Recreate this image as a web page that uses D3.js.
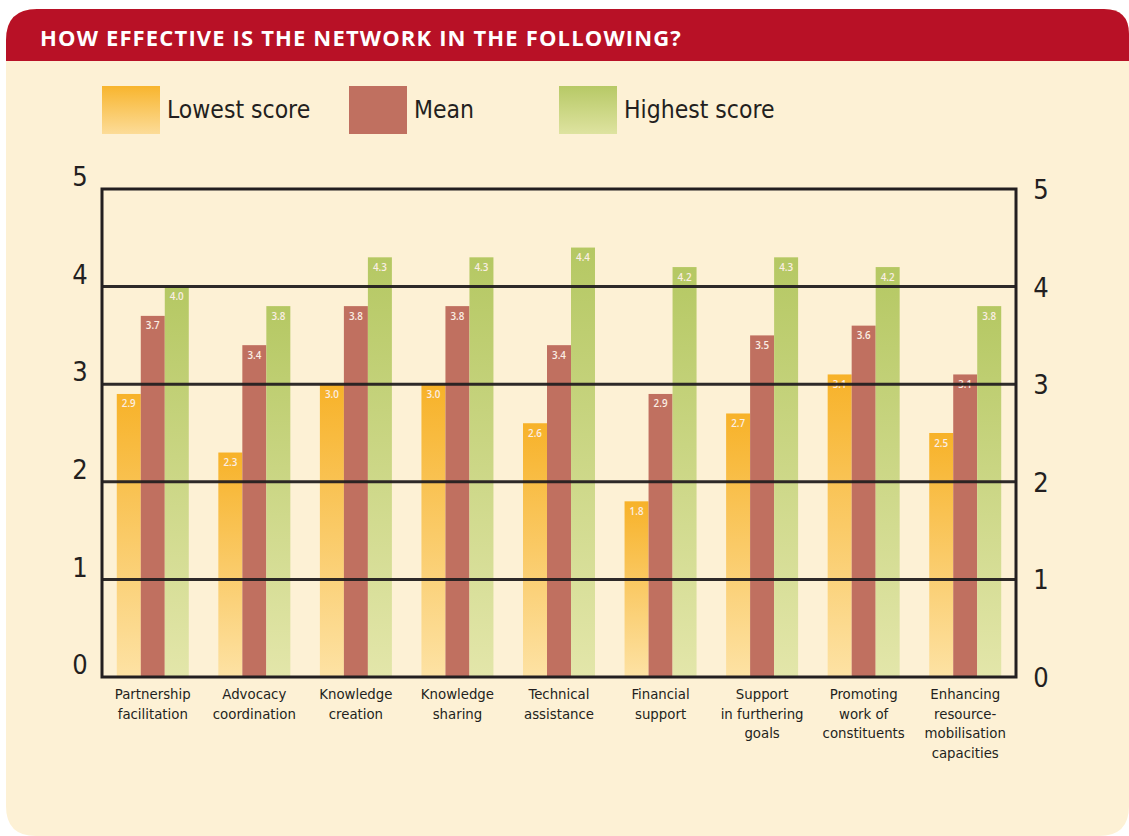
<!DOCTYPE html>
<html><head><meta charset="utf-8">
<script src="https://cdn.jsdelivr.net/npm/d3@7"></script>
<style>
html,body{margin:0;padding:0;background:#fff;}
svg{display:block;}
</style></head>
<body>
<svg id="chart" width="1129" height="836"></svg>
<script>
const title = "HOW EFFECTIVE IS THE NETWORK IN THE FOLLOWING?";
const categories = [
  ["Partnership","facilitation"],
  ["Advocacy","coordination"],
  ["Knowledge","creation"],
  ["Knowledge","sharing"],
  ["Technical","assistance"],
  ["Financial","support"],
  ["Support","in furthering","goals"],
  ["Promoting","work of","constituents"],
  ["Enhancing","resource-","mobilisation","capacities"]
];
const seriesNames = ["Lowest score","Mean","Highest score"];
const lowest  = [2.9, 2.3, 3.0, 3.0, 2.6, 1.8, 2.7, 3.1, 2.5];
const mean    = [3.7, 3.4, 3.8, 3.8, 3.4, 2.9, 3.5, 3.6, 3.1];
const highest = [4.0, 3.8, 4.3, 4.3, 4.4, 4.2, 4.3, 4.2, 3.8];
const yTicks = [0, 1, 2, 3, 4, 5];

(function(){
const FONT = "'DejaVu Sans Condensed','Open Sans',sans-serif";
const svg = d3.select("#chart");
const defs = svg.append("defs");

function grad(id, c1, c2){
  const g = defs.append("linearGradient").attr("id", id).attr("x1",0).attr("y1",0).attr("x2",0).attr("y2",1);
  g.append("stop").attr("offset","0%").attr("stop-color",c1);
  g.append("stop").attr("offset","100%").attr("stop-color",c2);
}
grad("gOrange", "#f7b229", "#fde2a4");
grad("gGreen", "#b5c863", "#e3e6aa");
grad("gOrangeL", "#f8b52e", "#fcdc98");
grad("gGreenL", "#b7c966", "#dee3a0");
const fills = ["url(#gOrange)", "#c07060", "url(#gGreen)"];
const legendFills = ["url(#gOrangeL)", "#c07060", "url(#gGreenL)"];

// panel
svg.append("path")
  .attr("d", "M6,40 Q6,9 37,9 L1104,9 Q1129,9 1129,34 L1129,806 Q1129,836 1099,836 L36,836 Q6,836 6,806 Z")
  .attr("fill", "#fdf1d5");
svg.append("path")
  .attr("d", "M6,61 L6,40 Q6,9 37,9 L1104,9 Q1129,9 1129,34 L1129,61 Z")
  .attr("fill", "#b81126");
svg.append("text")
  .attr("x", 40).attr("y", 46)
  .attr("fill", "#fff")
  .attr("font-family", "'Open Sans','DejaVu Sans',sans-serif")
  .attr("font-weight", "bold")
  .attr("font-size", 22)
  .attr("letter-spacing", 1.15)
  .text(title);

// legend
const legendX = [102, 349, 559];
seriesNames.forEach((n, i) => {
  svg.append("rect").attr("x", legendX[i]).attr("y", 86).attr("width", 58).attr("height", 48)
    .attr("fill", legendFills[i]);
  svg.append("text").attr("x", legendX[i] + 65).attr("y", 118)
    .attr("font-family", FONT).attr("font-size", 24.5).attr("fill", "#231f20")
    .text(n);
});

// scales
const pl = 102, pr = 1016, pt = 189, pb = 677;
const x = d3.scaleBand().domain(d3.range(categories.length)).range([pl, pr]).padding(0);
const y = d3.scaleLinear().domain([0, 5]).range([pb, pt]);
const barW = 24;
const series = [lowest, mean, highest];

const g = svg.append("g");
series.forEach((vals, si) => {
  g.selectAll(".bar" + si).data(vals).enter().append("rect")
    .attr("x", (d, i) => x(i) + x.bandwidth() / 2 - 1.5 * barW + si * barW)
    .attr("y", d => y(d))
    .attr("width", barW)
    .attr("height", d => y(0) - y(d))
    .attr("fill", fills[si]);
  g.selectAll(".lab" + si).data(vals).enter().append("text")
    .attr("x", (d, i) => x(i) + x.bandwidth() / 2 - 1.5 * barW + si * barW + barW / 2)
    .attr("y", d => y(d) + 13.5)
    .attr("text-anchor", "middle")
    .attr("font-family", "'Open Sans','DejaVu Sans',sans-serif")
    .attr("font-weight", 600)
    .attr("font-size", 9.8)
    .attr("fill", "#fbeee4")
    .text(d => d.toFixed(1));
});

// gridlines on top
const gridG = svg.append("g");
gridG.selectAll("line").data(yTicks.filter(t => t > 0 && t < 5)).enter().append("line")
  .attr("x1", pl).attr("x2", pr)
  .attr("y1", d => y(d)).attr("y2", d => y(d))
  .attr("stroke", "#231f20").attr("stroke-width", 3).attr("stroke-opacity", 0.95);
svg.append("rect").attr("x", pl).attr("y", pt).attr("width", pr - pl).attr("height", pb - pt)
  .attr("fill", "none").attr("stroke", "#231f20").attr("stroke-width", 3);

// axis labels
const leftAxis = d3.axisLeft(y).tickValues(yTicks).tickSize(0).tickPadding(0).tickFormat(d3.format("d"));
const la = svg.append("g").attr("transform", "translate(86,0)").call(leftAxis);
la.select(".domain").remove();
la.selectAll("text").attr("font-family", FONT).attr("font-size", 27).attr("fill", "#231f20")
  .attr("text-anchor", "middle").attr("x", -6).attr("dy", "-0.12em");
const rightAxis = d3.axisRight(y).tickValues(yTicks).tickSize(0).tickPadding(0).tickFormat(d3.format("d"));
const ra = svg.append("g").attr("transform", "translate(1035,0)").call(rightAxis);
ra.select(".domain").remove();
ra.selectAll("text").attr("font-family", FONT).attr("font-size", 27).attr("fill", "#231f20")
  .attr("text-anchor", "middle").attr("x", 6).attr("dy", "0.35em");

// category labels
categories.forEach((lines, i) => {
  const t = svg.append("text").attr("text-anchor", "middle")
    .attr("font-family", FONT).attr("font-size", 14.8).attr("fill", "#231f20");
  lines.forEach((ln, j) => {
    t.append("tspan").attr("x", x(i) + x.bandwidth() / 2).attr("y", 699 + j * 19.5).text(ln);
  });
});
})();
</script>
</body></html>
